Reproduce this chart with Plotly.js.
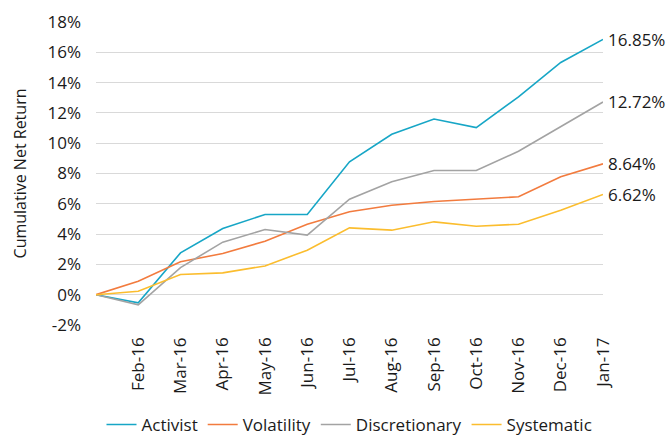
<!DOCTYPE html>
<html><head><meta charset="utf-8">
<script src="https://cdn.plot.ly/plotly-3.0.1.min.js"></script>
<style>html,body{margin:0;padding:0;background:#fff}#c{width:670px;height:435px}</style>
</head><body><div id="c"></div>
<script>
const months = ['Jan-16','Feb-16','Mar-16','Apr-16','May-16','Jun-16','Jul-16','Aug-16','Sep-16','Oct-16','Nov-16','Dec-16','Jan-17'];
const tickLabels = months.slice(1);
const yTickVals = [-2, 0, 2, 4, 6, 8, 10, 12, 14, 16, 18];
const yTickText = yTickVals.map(v => v + '%');
const activist      = [0, -0.54, 2.76, 4.37, 5.29, 5.29, 8.77, 10.59, 11.60, 11.03, 13.06, 15.33, 16.85];
const volatility    = [0, 0.89, 2.17, 2.72, 3.53, 4.65, 5.48, 5.90, 6.15, 6.30, 6.46, 7.78, 8.64];
const discretionary = [0, -0.67, 1.79, 3.47, 4.30, 3.93, 6.30, 7.45, 8.20, 8.20, 9.47, 11.08, 12.72];
const systematic    = [0, 0.23, 1.33, 1.44, 1.90, 2.94, 4.41, 4.26, 4.81, 4.52, 4.65, 5.58, 6.62];
const seriesNames = ['Activist','Volatility','Discretionary','Systematic'];
const colors = ['#17a6c6','#f27b3e','#a3a3a3','#fbbd2e'];
const data = [activist, volatility, discretionary, systematic];
const FONT = 'Open Sans, sans-serif';
const TXT = '#1a1a1a';

const traces = data.map((ys, i) => ({
  type: 'scatter', mode: 'lines', x: months, y: ys, name: seriesNames[i],
  line: {color: colors[i], width: 1.6}
}));
const annotations = data.map((ys, i) => ({
  x: months[months.length-1], y: ys[ys.length-1], xref: 'x', yref: 'y',
  text: ys[ys.length-1].toFixed(2) + '%', showarrow: false, xanchor: 'left', xshift: 3,
  font: {family: FONT, size: 17, color: TXT}
}));
annotations.push({
  text: 'Cumulative Net Return', textangle: -90, showarrow: false,
  xref: 'paper', yref: 'paper', x: -0.15, y: 0.5, xanchor: 'center', yanchor: 'middle',
  font: {family: FONT, size: 16, color: TXT}
});
Plotly.newPlot('c', traces, {
  width: 670, height: 435,
  margin: {l: 96, r: 67, t: 22, b: 110},
  paper_bgcolor: '#fff', plot_bgcolor: '#fff',
  font: {family: FONT, size: 17, color: TXT},
  xaxis: {type: 'category', range: [0, 12], tickmode: 'array', tickvals: tickLabels, ticktext: tickLabels,
          tickangle: -90, showgrid: false, zeroline: false, showline: false, ticks: '', automargin: false,
          ticklabelstandoff: 8, tickfont: {family: FONT, size: 17, color: TXT}},
  yaxis: {range: [-2, 18], tickmode: 'array', tickvals: yTickVals, ticktext: yTickText,
          showgrid: true, gridcolor: '#d9d9d9', gridwidth: 1,
          zeroline: false, showline: false, ticks: '', automargin: false, ticklabelstandoff: 14,
          tickfont: {family: FONT, size: 17, color: TXT}},
  legend: {orientation: 'h', x: 0.5, xref: 'paper', xanchor: 'center', yref: 'container', y: 0.023, yanchor: 'middle',
           font: {family: FONT, size: 17, color: TXT}, itemwidth: 30, tracegroupgap: 0},
  annotations: annotations,
  showlegend: true
}, {displayModeBar: false, staticPlot: true});
</script></body></html>
